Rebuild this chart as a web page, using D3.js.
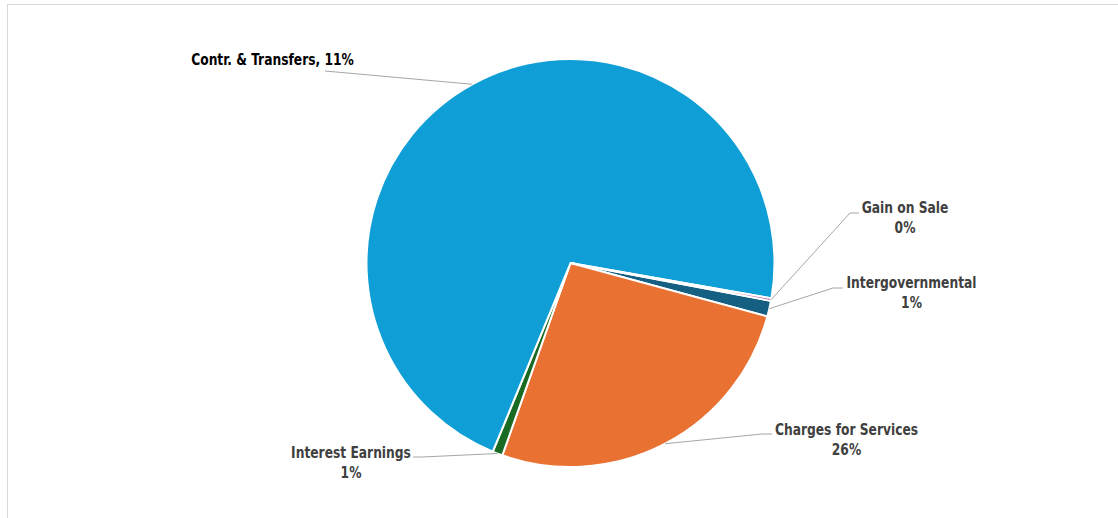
<!DOCTYPE html>
<html>
<head>
<meta charset="utf-8">
<script src="https://cdn.jsdelivr.net/npm/d3@7"></script>
<style>
  html, body { margin: 0; padding: 0; background: #ffffff; }
  svg { display: block; }
  .lbl { font-family: "Liberation Sans Narrow", "Arial Narrow", "DejaVu Sans Condensed", sans-serif; font-weight: bold; font-size: 15px; }
</style>
</head>
<body>
<svg id="chart" width="1118" height="518"></svg>
<script>
// Revenue sources, in slice order (clockwise from the first slice)
const categories = ["Intergovernmental", "Charges for Services", "Interest Earnings", "Contr. & Transfers", "Gain on Sale"];
const shares = [1.25, 26.2, 0.8, 71.55, 0.2];
const labelPercents = ["1%", "26%", "1%", "11%", "0%"];
const sliceColors = ["#156082", "#E97132", "#196B24", "#0F9ED5", "#A02B93"];

const W = 1118, H = 518;
const cx = 570.5, cy = 263, R = 204;
const firstSliceDeg = 100.7;
const textSquash = 0.91; // horizontal condensing of label text

const svg = d3.select("#chart");

// chart area frame
svg.append("rect")
  .attr("x", 7.5).attr("y", 4.5)
  .attr("width", W + 20).attr("height", H + 20)
  .attr("fill", "#ffffff")
  .attr("stroke", "#d9d9d9").attr("stroke-width", 1);

const data = categories.map((c, i) => ({ name: c, value: shares[i], pct: labelPercents[i], color: sliceColors[i] }));

const start = firstSliceDeg * Math.PI / 180;
const pie = d3.pie().sort(null).value(d => d.value)
  .startAngle(start).endAngle(start + 2 * Math.PI);
const arcs = pie(data);

const arc = d3.arc().innerRadius(0).outerRadius(R);

const g = svg.append("g").attr("transform", `translate(${cx},${cy})`);
g.selectAll("path.slice")
  .data(arcs)
  .join("path")
  .attr("class", "slice")
  .attr("d", arc)
  .attr("fill", d => d.data.color)
  .attr("stroke", "#ffffff")
  .attr("stroke-width", 2)
  .attr("stroke-linejoin", "miter");

// label placement: text centre x, first baseline, leader start and elbow
const labelLayout = {
  "Gain on Sale":         { x: 905,   y: 213, lead: [859, 213], elbow: [850, 213] },
  "Intergovernmental":    { x: 911.5, y: 288, lead: [843, 288], elbow: [833, 288] },
  "Charges for Services": { x: 846.5, y: 435, lead: [772, 434], elbow: [762, 434] },
  "Interest Earnings":    { x: 351,   y: 458, lead: [413, 457], elbow: [422, 457] },
  "Contr. & Transfers":   { x: 272.5, y: 65,  lead: [325, 71],  elbow: null, single: true }
};

const edgePoint = a => {
  const mid = (a.startAngle + a.endAngle) / 2;
  return [cx + R * Math.sin(mid), cy - R * Math.cos(mid)];
};

// leader lines
const leaders = svg.append("g");
arcs.forEach(a => {
  const L = labelLayout[a.data.name];
  const pts = [L.lead];
  if (L.elbow) pts.push(L.elbow);
  pts.push(edgePoint(a));
  leaders.append("path")
    .attr("d", d3.line()(pts))
    .attr("fill", "none")
    .attr("stroke", "#a6a6a6")
    .attr("stroke-width", 1);
});

// data labels
const labels = svg.append("g");
arcs.forEach(a => {
  const L = labelLayout[a.data.name];
  const t = labels.append("g")
    .attr("transform", `translate(${L.x},${L.y}) scale(${textSquash},1)`)
    .append("text")
    .attr("class", "lbl")
    .attr("text-anchor", "middle")
    .attr("x", 0).attr("y", 0);
  if (L.single) {
    t.attr("fill", "#000000").text(`${a.data.name}, ${a.data.pct}`);
  } else {
    t.attr("fill", "#404040");
    t.append("tspan").attr("x", 0).attr("dy", 0).text(a.data.name);
    t.append("tspan").attr("x", 0).attr("dy", 20).text(a.data.pct);
  }
});
</script>
</body>
</html>
